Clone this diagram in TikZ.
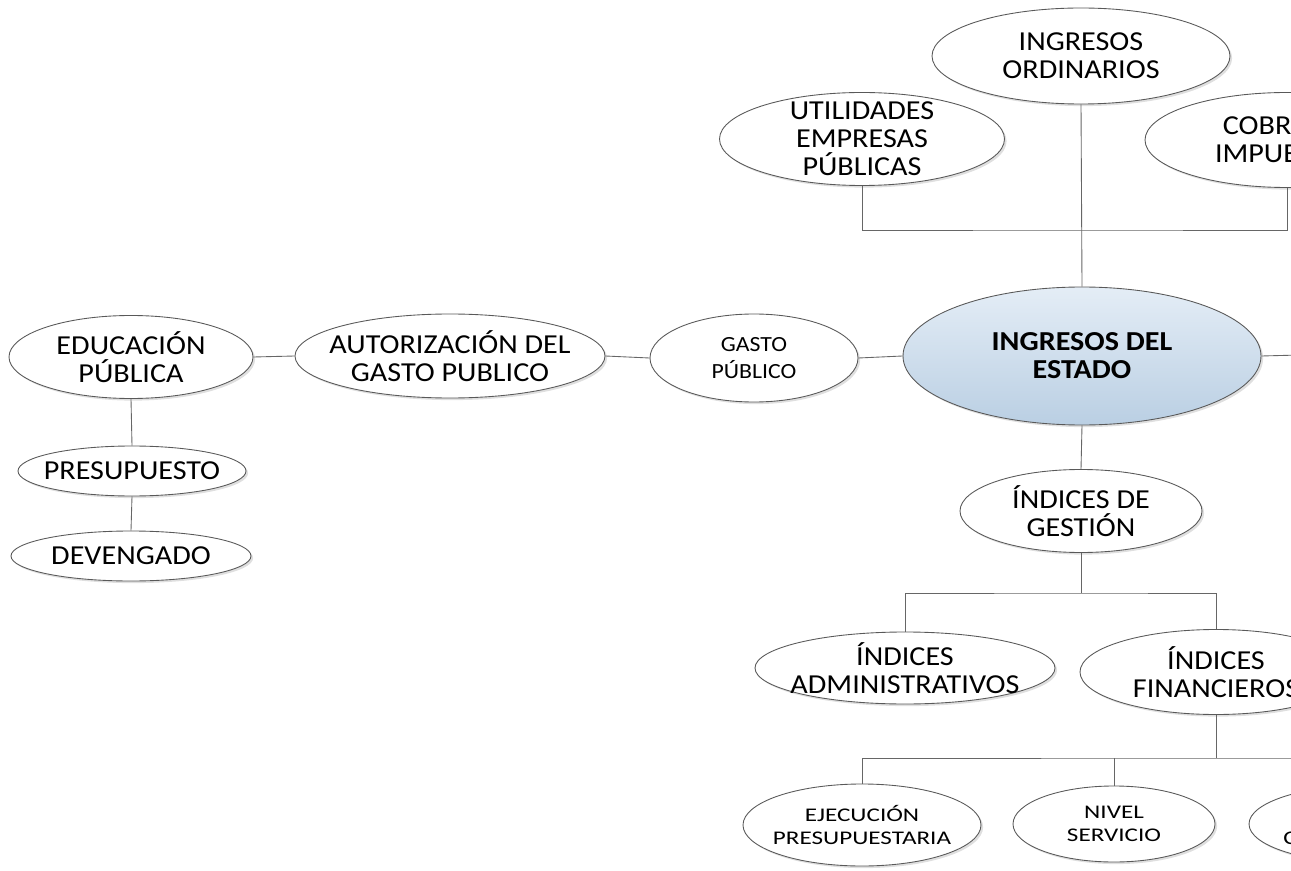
\documentclass[tikz,border=0pt]{standalone}
\usepackage{fontspec}
\setmainfont{Carlito}[FakeStretch=1.1]
\newfontfamily\ancha{Carlito}[FakeStretch=1.3]
\usetikzlibrary{shapes.geometric,shadows}
\definecolor{celesteA}{HTML}{E4EDF6}
\definecolor{celesteB}{HTML}{BACFE3}

\begin{document}
\begin{tikzpicture}[x=0.02cm,y=-0.02cm,
  elipse/.style 2 args={ellipse, draw=black!65, line width=0.5pt, fill=white,
    inner xsep=-3cm, inner ysep=-1.5cm, align=center,
    minimum width=#1*0.02cm, minimum height=#2*0.02cm,
    font=\fontsize{15.6}{16}\selectfont,
    drop shadow={shadow xshift=1.2pt, shadow yshift=-1.2pt, opacity=0.25}},
  chica/.style={font=\ancha\fontsize{11}{13.5}\selectfont},
  linea/.style={draw=black!60, line width=0.5pt}]
  \useasboundingbox (0,0) rectangle (1291,871);
  \clip (0,0) rectangle (1291,871);

  % parte superior
  \node[elipse={298}{96}] (ordin) at (1081,56) {INGRESOS\\ORDINARIOS};
  \node[elipse={285}{93}] (util) at (862,139) {UTILIDADES\\EMPRESAS\\PÚBLICAS};
  \node[elipse={284}{95}] (cobro) at (1287,140) {COBRO DE\\IMPUESTOS};
  \node[elipse={358}{138}, top color=celesteA, bottom color=celesteB,
        font=\fontsize{15.6}{16}\selectfont\bfseries] (estado) at (1082,356) {INGRESOS DEL\\ESTADO};
  \coordinate (b1) at (1081,230);
  \coordinate (dcha) at (1300,355);

  % gasto
  \node[elipse={208}{88}, chica, font=\fontsize{12.3}{15}\selectfont] (gasto) at (754,358) {GASTO\\PÚBLICO};
  \node[elipse={310}{84}] (autor) at (450,356) {AUTORIZACIÓN DEL\\GASTO PUBLICO};
  \node[elipse={244}{83}] (educ) at (131,357) {EDUCACIÓN\\PÚBLICA};
  \node[elipse={228}{50}] (presu) at (132,471) {PRESUPUESTO};
  \node[elipse={240}{50}] (deven) at (131,556) {DEVENGADO};

  % indices
  \node[elipse={242}{83}] (gest) at (1081,511) {ÍNDICES DE\\GESTIÓN};
  \node[elipse={300}{72}] (admin) at (905,668) {ÍNDICES\\ADMINISTRATIVOS};
  \node[elipse={272}{85}] (finan) at (1216,672) {ÍNDICES\\FINANCIEROS};
  \coordinate (b2) at (1081,593);
  \node[elipse={238}{82}, chica] (ejec) at (862,825) {EJECUCIÓN\\PRESUPUESTARIA};
  \node[elipse={202}{76}, chica] (nivel) at (1114,824) {NIVEL\\SERVICIO};
  \node[elipse={242}{78}, chica] (otro) at (1370,824) {};
  \node[chica, anchor=west, inner sep=0pt] (otrotxt) at (1283,838) {C};
  \coordinate (b3) at (1216,758);

  % conectores
  \draw[linea] (util.south) |- (b1) -| (cobro.south);
  \draw[linea] (ordin.south) -- (estado.north);
  \draw[linea] (estado.east) -- (dcha);
  \draw[linea] (estado.west) -- (gasto.east);
  \draw[linea] (gasto.west) -- (autor.east);
  \draw[linea] (autor.west) -- (educ.east);
  \draw[linea] (educ.south) -- (presu.north);
  \draw[linea] (presu.south) -- (deven.north);
  \draw[linea] (estado.south) -- (gest.north);
  \draw[linea] (gest.south) -- (b2);
  \draw[linea] (admin.north) |- (b2) -| (finan.north);
  \draw[linea] (finan.south) -- (b3);
  \draw[linea] (ejec.north) |- (b3) -| (otro.north);
  \draw[linea] (nivel.north) -- (nivel.north |- b3);
\end{tikzpicture}
\end{document}
